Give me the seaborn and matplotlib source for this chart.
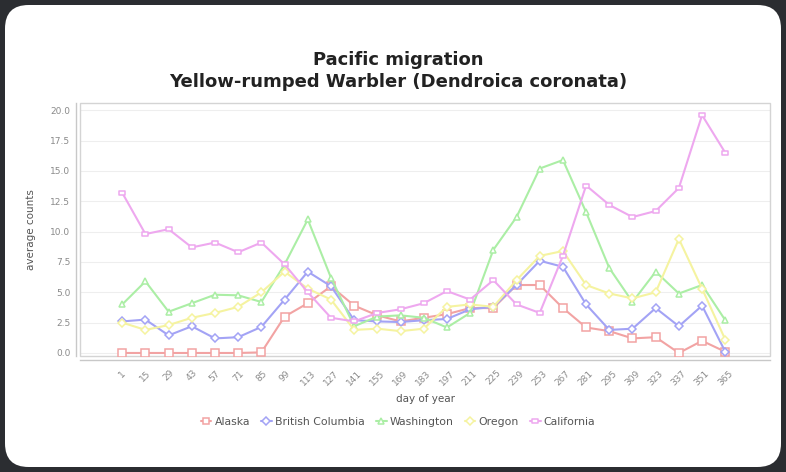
import numpy as np
import pandas as pd
import matplotlib
matplotlib.use("Agg")
import matplotlib.pyplot as plt
from matplotlib.patches import FancyBboxPatch, Rectangle
from matplotlib.path import Path
from matplotlib.lines import Line2D
import seaborn as sns

# day-of-year sample points (categories on the x axis)
days = [1, 15, 29, 43, 57, 71, 85, 99, 113, 127, 141, 155, 169, 183,
        197, 211, 225, 239, 253, 267, 281, 295, 309, 323, 337, 351, 365]

alaska = [0.0, 0.0, 0.0, 0.0, 0.0, 0.0, 0.05, 3.0, 4.1, 5.5, 3.9, 3.1, 2.6, 2.9,
          3.2, 3.7, 3.7, 5.6, 5.6, 3.7, 2.1, 1.8, 1.2, 1.3, 0.0, 1.0, 0.1]
british_columbia = [2.6, 2.75, 1.45, 2.2, 1.2, 1.3, 2.15, 4.4, 6.7, 5.5, 2.7, 2.6, 2.55, 2.7,
                    2.8, 3.6, 3.8, 5.6, 7.6, 7.1, 4.0, 1.9, 2.0, 3.7, 2.2, 3.9, 0.1]
washington = [4.0, 5.9, 3.4, 4.1, 4.8, 4.75, 4.2, 7.3, 11.0, 6.2, 2.2, 3.0, 3.1, 2.9,
              2.1, 3.3, 8.5, 11.2, 15.2, 15.9, 11.6, 7.0, 4.2, 6.7, 4.9, 5.6, 2.7]
oregon = [2.5, 1.9, 2.3, 2.9, 3.3, 3.8, 5.0, 6.7, 5.3, 4.4, 1.9, 2.0, 1.8, 2.0,
          3.8, 4.0, 3.8, 6.0, 8.0, 8.4, 5.6, 4.9, 4.5, 5.0, 9.4, 5.3, 1.1]
california = [13.2, 9.8, 10.2, 8.7, 9.1, 8.3, 9.1, 7.3, 5.0, 2.9, 2.6, 3.3, 3.6, 4.1,
              5.1, 4.4, 6.0, 4.0, 3.3, 8.0, 13.8, 12.2, 11.2, 11.7, 13.6, 19.6, 16.5]

regions = ["Alaska", "British Columbia", "Washington", "Oregon", "California"]
series = [alaska, british_columbia, washington, oregon, california]
yticks = [0.0, 2.5, 5.0, 7.5, 10.0, 12.5, 15.0, 17.5, 20.0]

df = pd.concat(
    [pd.DataFrame({"day": days, "count": vals, "region": name})
     for name, vals in zip(regions, series)],
    ignore_index=True,
)

# pastel series colours and outline markers
colors = {
    "Alaska": "#f2a3a3",
    "British Columbia": "#a3a3f5",
    "Washington": "#abeea5",
    "Oregon": "#f5f3a0",
    "California": "#eea8ef",
}
hrect = Path([(-1.0, -0.55), (1.0, -0.55), (1.0, 0.55), (-1.0, 0.55), (-1.0, -0.55)],
             [Path.MOVETO, Path.LINETO, Path.LINETO, Path.LINETO, Path.CLOSEPOLY])
markers = {
    "Alaska": "s",
    "British Columbia": "D",
    "Washington": "^",
    "Oregon": "D",
    "California": hrect,
}
msizes = {"Alaska": 5.5, "British Columbia": 4.5, "Washington": 5, "Oregon": 4.5, "California": 5}

sns.set_theme(style="white")
plt.rcParams["font.family"] = ["DejaVu Sans"]

W, H = 786, 472
fig = plt.figure(figsize=(W / 100, H / 100), dpi=100)
fig.patch.set_facecolor("#2b2d31")

# white rounded card behind everything
card = FancyBboxPatch((5 / W, 5 / H), (W - 10) / W, (H - 10) / H,
                      boxstyle="round,pad=0,rounding_size=0.03",
                      transform=fig.transFigure, facecolor="white",
                      edgecolor="none", mutation_aspect=W / H, zorder=-10)
fig.patches.append(card)

left, right, top, bottom = 80, 770, 103, 356
ax = fig.add_axes([left / W, 1 - bottom / H, (right - left) / W, (bottom - top) / H])
ax.set_facecolor("white")
ax.set_zorder(1)

for name in regions:
    sub = df[df["region"] == name]
    sns.lineplot(data=sub, x="day", y="count", ax=ax, color=colors[name],
                 marker=markers[name], markersize=msizes[name],
                 markeredgecolor=colors[name], markerfacecolor="white",
                 markeredgewidth=1.1, linewidth=1.5, label=name, zorder=3)

ax.set_xlim(-24.5, 392)
ax.set_ylim(-0.25, 20.6)
ax.set_yticks(yticks)
ax.set_yticklabels([f"{v:.1f}" for v in yticks])
ax.set_xticks(days)
ax.set_xticklabels([str(d) for d in days])
ax.tick_params(axis="both", labelsize=6.5, labelcolor="#8a8a8a", colors="#b8b8b8",
               length=2, width=0.8, pad=2)
ax.tick_params(axis="x", pad=4, labelrotation=45)
for lbl in ax.get_xticklabels():
    lbl.set_horizontalalignment("right")
    lbl.set_verticalalignment("top")
    lbl.set_rotation_mode("anchor")

# faint horizontal gridlines
ax.yaxis.grid(True, color="#eeeeee", linewidth=0.8)
ax.xaxis.grid(False)
ax.set_axisbelow(True)

# plot outline plus offset axis lines
for s in ["top", "right"]:
    ax.spines[s].set_visible(False)
for s in ["left", "bottom"]:
    ax.spines[s].set_position(("outward", 3))
    ax.spines[s].set_color("#c8c8c8")
    ax.spines[s].set_linewidth(1.0)
ax.add_patch(Rectangle((0, 0), 1, 1, transform=ax.transAxes, fill=False,
                       edgecolor="#d4d4d4", linewidth=1.0, clip_on=False, zorder=1))

ax.set_xlabel("day of year", fontsize=7.5, color="#555555", labelpad=5)
ax.set_ylabel("average counts", fontsize=7.5, color="#555555", labelpad=10)

if ax.get_legend() is not None:
    ax.get_legend().remove()
handles = [Line2D([], [], color=colors[n], marker=markers[n], markersize=msizes[n] - 0.5,
                  markeredgecolor=colors[n], markerfacecolor="white",
                  markeredgewidth=1.1, linewidth=1.5) for n in regions]
fig.legend(handles, regions, loc="center", bbox_to_anchor=(398 / W, 1 - 422 / H),
           ncol=5, frameon=False, fontsize=7.8, labelcolor="#555555",
           handlelength=1.0, handletextpad=0.3, columnspacing=1.0)

fig.text(398 / W, 1 - 60 / H, "Pacific migration", ha="center", va="center",
         fontsize=13, fontweight="bold", color="#222222")
fig.text(398 / W, 1 - 82 / H, "Yellow-rumped Warbler (Dendroica coronata)",
         ha="center", va="center", fontsize=13, fontweight="bold", color="#222222")

fig.savefig("out.png", dpi=100, facecolor=fig.get_facecolor())
